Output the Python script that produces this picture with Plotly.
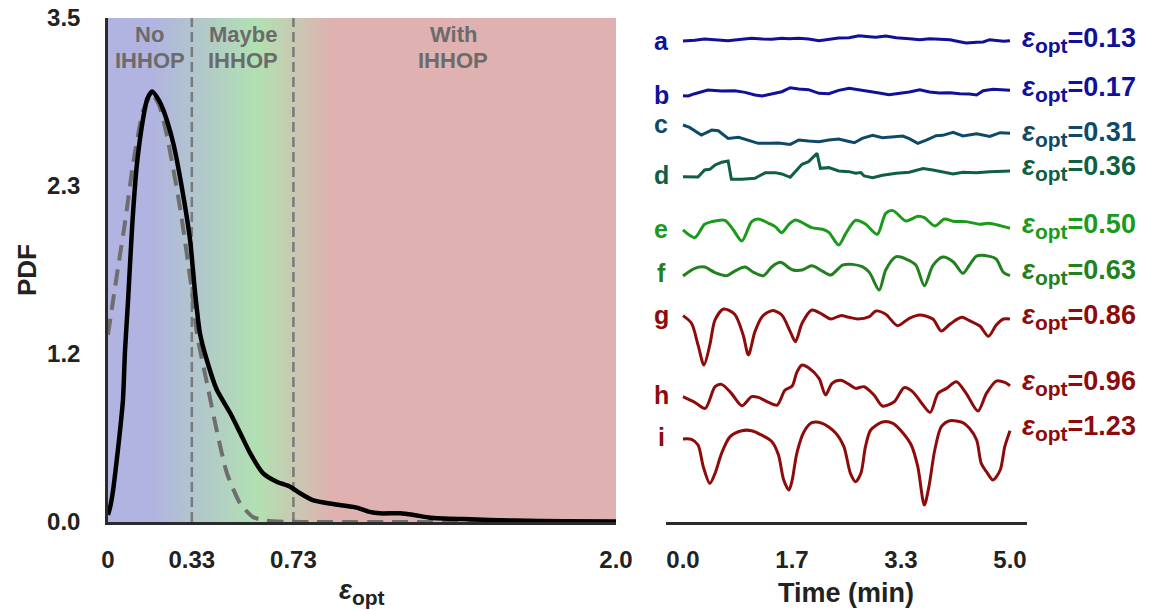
import plotly.graph_objects as go

# ---------------- left panel: distribution of eps_opt ----------------
kde_eps = [0, 0.008, 0.02, 0.039, 0.05, 0.059, 0.067, 0.079, 0.095, 0.113, 0.139, 0.155, 0.174,
           0.2, 0.218, 0.257, 0.29, 0.323, 0.343, 0.362, 0.389, 0.428, 0.48, 0.52, 0.559, 0.61,
           0.664, 0.717, 0.756, 0.809, 0.886, 0.979, 1.03, 1.07, 1.15, 1.2, 1.27, 1.4, 1.6, 1.8, 2.0]
kde_pdf = [0.05, 0.1, 0.22, 0.5, 0.68, 0.85, 1.19, 1.54, 2.05, 2.47, 2.81, 2.94, 2.99,
           2.93, 2.86, 2.63, 2.33, 1.96, 1.59, 1.31, 1.125, 0.92, 0.76, 0.62, 0.48, 0.34,
           0.28, 0.245, 0.2, 0.15, 0.125, 0.10, 0.07, 0.06, 0.06, 0.05, 0.03, 0.02, 0.01, 0.005, 0.003]

fit_eps = [0, 0.021, 0.045, 0.067, 0.1, 0.139, 0.172, 0.2, 0.23, 0.283, 0.33, 0.35, 0.39,
           0.43, 0.468, 0.52, 0.57, 0.62, 0.7, 0.8, 2.0]
fit_pdf = [1.30, 1.55, 1.83, 2.08, 2.5, 2.86, 2.97, 2.90, 2.70, 2.19, 1.61, 1.31, 0.96,
           0.62, 0.34, 0.13, 0.035, 0.01, 0.002, 0, 0]

thresholds = [0.33, 0.73]
region_first_line = ["No", "Maybe", "With"]
region_second_line = ["IHHOP", "IHHOP", "IHHOP"]
region_label_eps = [0.165, 0.53, 1.36]

pdf_tickvals = [0, 3.5 / 3, 7 / 3, 3.5]
pdf_ticktext = ["0.0", "1.2", "2.3", "3.5"]
eps_tickvals = [0, 0.33, 0.73, 2.0]
eps_ticktext = ["0", "0.33", "0.73", "2.0"]

# ---------------- right panel: example recordings (arbitrary units) ----------------
trace_ids = ["a", "b", "c", "d", "e", "f", "g", "h", "i"]
trace_eps = ["0.13", "0.17", "0.31", "0.36", "0.50", "0.63", "0.86", "0.96", "1.23"]

time_a = [0, .18, .33, .54, .69, .79, .90, 1.05, 1.21, 1.36, 1.51, 1.62, 1.77, 1.92, 2.08, 2.23, 2.38, 2.54,
          2.69, 2.85, 2.95, 3.10, 3.26, 3.46, 3.62, 3.77, 3.92, 4.08, 4.23, 4.33, 4.49, 4.59, 4.69, 4.79, 4.90, 5.00]
amp_a = [-3, -1, 3, 1, -2, 0, 2, 5, 3, 2, 5, 4, 5, 3, -2, 3, 6, 7,
         13, 10, 8, 12, 7, 4, 1, 4, 3, 1, -5, -9, -7, -6, 1, -2, -4, -2]

time_b = [0, .08, .18, .38, .59, .79, .95, 1.10, 1.21, 1.36, 1.51, 1.64, 1.77, 1.92, 2.08, 2.23, 2.38, 2.54,
          2.69, 2.85, 3.00, 3.15, 3.31, 3.46, 3.62, 3.77, 3.92, 4.08, 4.23, 4.38, 4.49, 4.59, 4.74, 4.90, 5.00]
amp_b = [-12, -13, -6, 5, 2, 3, -2, -10, -13, -6, 0, 12, 8, 6, -5, -6, 4, 10,
         6, 0, -4, -9, -5, -1, 6, -1, -4, -3, -6, -7, -10, 3, 7, 4, 4]

time_c = [0, .10, .28, .44, .54, .69, .85, 1.00, 1.15, 1.31, 1.46, 1.64, 1.77, 1.92, 2.08, 2.23, 2.38, 2.49,
          2.62, 2.74, 2.90, 3.05, 3.21, 3.36, 3.46, 3.59, 3.72, 3.87, 3.97, 4.13, 4.28, 4.49, 4.69, 4.85, 5.00]
amp_c = [35, 28, 5, 20, 18, -5, -2, -10, -20, -20, -19, -23, -10, -13, -15, -10, -7, -12,
         -18, -5, 4, -3, -1, 2, -6, -20, -10, 3, 4, 13, 2, 9, 1, 12, 10]

time_d = [0, .23, .33, .41, .49, .59, .69, .74, .90, 1.10, 1.26, 1.41, 1.51, 1.64, 1.74, 1.82, 1.92, 2.05, 2.10,
          2.23, 2.38, 2.54, 2.64, 2.72, 2.77, 2.90, 3.05, 3.26, 3.46, 3.67, 3.82, 3.97, 4.13, 4.28, 4.49, 4.69, 5.00]
amp_d = [-10, -11, 10, 12, 25, 33, 37, -18, -18, -15, 2, 2, -2, -12, 10, 27, 35, 60, 15,
         17, 7, 5, 0, 2, -8, -13, -6, 0, 3, 14, 10, 5, -2, 3, 2, 5, 7]

time_e = [0, .18, .33, .44, .64, .77, .90, 1.05, 1.15, 1.31, 1.41, 1.51, 1.62, 1.72, 1.87, 1.97, 2.13, 2.23,
          2.38, 2.49, 2.64, 2.79, 2.97, 3.10, 3.21, 3.41, 3.59, 3.69, 3.85, 4.00, 4.13, 4.33, 4.54, 4.67, 4.85, 5.00]
amp_e = [-5, -28, 12, 20, 24, -5, -38, 20, 28, 15, 5, -13, 12, 25, 12, 2, -3, -12,
         -50, -15, 24, 13, -18, 45, 53, 22, 36, 32, 7, 28, 21, 20, 12, 15, 8, 0]

time_f = [0, .18, .33, .49, .67, .79, .95, 1.08, 1.23, 1.36, 1.49, 1.67, 1.82, 1.97, 2.13, 2.26, 2.44, 2.59,
          2.74, 2.85, 3.00, 3.10, 3.26, 3.41, 3.56, 3.69, 3.82, 3.97, 4.13, 4.28, 4.38, 4.49, 4.69, 4.79, 4.90, 5.00]
amp_f = [-13, 10, 14, -3, -12, 2, 14, -2, -12, 15, 28, 6, 5, 18, 2, -10, 20, 22,
         15, -2, -55, 5, 45, 38, 20, -42, 18, 44, 30, -5, 20, 47, 46, 38, -2, -12]

time_g = [0, .13, .23, .32, .41, .49, .62, .79, .92, 1.00, 1.10, 1.21, 1.36, 1.51, 1.64, 1.72, 1.82, 1.97, 2.13,
          2.26, 2.41, 2.54, 2.67, 2.85, 2.95, 3.10, 3.28, 3.46, 3.62, 3.82, 3.95, 4.08, 4.26, 4.38, 4.54, 4.67,
          4.79, 4.90, 5.00]
amp_g = [8, -15, -80, -140, -80, -5, 28, 12, -50, -110, -40, 5, 23, 10, -40, -70, -15, 25, 12,
         -2, 8, 3, -2, 5, 22, 12, -22, 0, 10, -2, -38, -18, 3, -7, -23, -54,
         -20, -2, -2]

time_h = [0, .18, .34, .49, .59, .74, .90, 1.05, 1.15, 1.31, 1.44, 1.56, 1.67, 1.74, 1.82, 1.92, 2.08, 2.18, 2.28,
          2.41, 2.54, 2.64, 2.77, 2.92, 3.05, 3.23, 3.38, 3.51, 3.67, 3.78, 3.90, 4.03, 4.18, 4.33, 4.51, 4.64,
          4.79, 4.92, 5.00]
amp_h = [-15, -32, -50, 15, 22, -5, -42, -15, -17, -32, -40, 5, 17, 58, 80, 72, 40, -10, 25,
         34, 22, 10, 15, -10, -43, -30, 12, 0, -40, -62, -5, 10, 30, -5, -58, -5,
         32, 28, 18]

time_i = [0, .13, .23, .31, .41, .49, .59, .72, .90, 1.05, 1.18, 1.36, 1.46, 1.54, 1.62, 1.67, 1.74, 1.85,
          1.97, 2.13, 2.33, 2.46, 2.56, 2.64, 2.72, 2.79, 2.87, 3.05, 3.21, 3.36, 3.49, 3.59, 3.69, 3.76,
          3.85, 3.95, 4.08, 4.28, 4.38, 4.49, 4.56, 4.64, 4.74, 4.85, 4.92, 5.00]
amp_i = [-27, -28, -45, -110, -160, -130, -70, -20, -2, -2, -13, -35, -75, -150, -180, -150, -70, -5,
         22, 20, -8, -50, -130, -155, -130, -50, 0, 24, 20, -8, -45, -110, -225, -170,
         -60, 10, 28, 22, 5, -30, -100, -125, -150, -120, -50, -2]

time_ticks = [0, 5 / 3, 10 / 3, 5]
time_ticktext = ["0.0", "1.7", "3.3", "5.0"]

# ---------------- styling / layout constants ----------------
W, H = 1160, 610
TOP, BOTTOM = 18, 522
FONT = "Liberation Sans, Arial, sans-serif"
AXIS_COLOR = "#2b2b2b"
TEXT_COLOR = "#222222"
REGION_TEXT = "#6b6b6b"
BLUE_BG, GREEN_BG, PINK_BG = "#b1b3e1", "#b1e1b1", "#dfb1b1"

trace_times = [time_a, time_b, time_c, time_d, time_e, time_f, time_g, time_h, time_i]
trace_amps = [amp_a, amp_b, amp_c, amp_d, amp_e, amp_f, amp_g, amp_h, amp_i]
trace_colors = ["#10109a", "#10109a", "#0e4a68", "#0f5f42", "#1b9a1b", "#22801e",
                "#8e0b0b", "#8e0b0b", "#8e0b0b"]
trace_base_px = [40, 91.7, 136.7, 173.3, 228.3, 271.7, 318.3, 391.7, 430]
letter_y_px = [41, 95, 124, 175, 229, 273, 315, 395, 437]
label_y_px = [40, 89, 134, 168, 226, 272, 317, 383, 428]
amp_scale = 1 / 3
smooth_traces = {"e", "f", "g", "h", "i"}


def fx(px):
    return px / W


def fy(py):
    return 1 - py / H


def eps_text(suffix="", sub_px=20):
    return "<i>ε</i><sub><span style='font-size:%dpx'>opt</span></sub>%s" % (sub_px, suffix)


fig = go.Figure()

# gradient background marking the three regimes
fig.add_trace(go.Scatter(
    x=[0, 2, 2, 0, 0], y=[0, 0, 3.5, 3.5, 0], mode="lines", fill="toself",
    line=dict(width=0), hoverinfo="skip", showlegend=False,
    fillgradient=dict(type="horizontal",
                      colorscale=[[0, BLUE_BG], [0.085, BLUE_BG], [0.295, GREEN_BG],
                                  [0.44, PINK_BG], [1, PINK_BG]]),
    xaxis="x", yaxis="y"))

# regime boundaries
vx, vy = [], []
for t in thresholds:
    vx += [t, t, None]
    vy += [0, 3.5, None]
fig.add_trace(go.Scatter(x=vx, y=vy, mode="lines", showlegend=False, hoverinfo="skip",
                         line=dict(color="#7a7a7a", width=2.5, dash="10px,5px"),
                         xaxis="x", yaxis="y"))

# fitted distribution (dashed) and estimated density (solid)
fig.add_trace(go.Scatter(x=fit_eps, y=fit_pdf, mode="lines", showlegend=False,
                         line=dict(color="#6e6e6e", width=4, dash="16px,9px", shape="spline",
                                   smoothing=0.6),
                         xaxis="x", yaxis="y"))
fig.add_trace(go.Scatter(x=kde_eps, y=kde_pdf, mode="lines", showlegend=False,
                         line=dict(color="black", width=4.5, shape="spline", smoothing=0.6),
                         xaxis="x", yaxis="y"))

# example recordings, stacked
for tid, tt, aa, col, base in zip(trace_ids, trace_times, trace_amps, trace_colors, trace_base_px):
    yy = [-base + a * amp_scale for a in aa]
    shape = "spline" if tid in smooth_traces else "linear"
    fig.add_trace(go.Scatter(x=tt, y=yy, mode="lines", showlegend=False,
                             line=dict(color=col, width=3, shape=shape, smoothing=0.8),
                             xaxis="x2", yaxis="y2"))

annotations = []
region_font = dict(family=FONT, size=22, color=REGION_TEXT, weight="bold")
for l1, l2, ex in zip(region_first_line, region_second_line, region_label_eps):
    annotations.append(dict(x=ex, y=fy(35), xref="x", yref="paper", text=l1, showarrow=False,
                            xanchor="center", yanchor="middle", font=region_font))
    annotations.append(dict(x=ex, y=fy(60), xref="x", yref="paper", text=l2, showarrow=False,
                            xanchor="center", yanchor="middle", font=region_font))

for tid, col, ly, ey, ev in zip(trace_ids, trace_colors, letter_y_px, label_y_px, trace_eps):
    annotations.append(dict(x=fx(661), y=fy(ly), xref="paper", yref="paper", text=tid,
                            showarrow=False, xanchor="center", yanchor="middle",
                            font=dict(family=FONT, size=25, color=col, weight="bold")))
    annotations.append(dict(x=fx(1020), y=fy(ey), xref="paper", yref="paper",
                            text=eps_text("=" + ev, 21),
                            showarrow=False, xanchor="left", yanchor="middle",
                            font=dict(family=FONT, size=27, color=col, weight="bold")))

# axis titles
annotations.append(dict(x=fx(27), y=fy(270), xref="paper", yref="paper", text="PDF", textangle=-90,
                        showarrow=False, xanchor="center", yanchor="middle",
                        font=dict(family=FONT, size=26, color=TEXT_COLOR, weight="bold")))
annotations.append(dict(x=fx(362), y=fy(592), xref="paper", yref="paper", text=eps_text("", 21),
                        showarrow=False, xanchor="center", yanchor="middle",
                        font=dict(family=FONT, size=27, color=TEXT_COLOR, weight="bold")))
annotations.append(dict(x=fx(846), y=fy(593), xref="paper", yref="paper", text="Time (min)",
                        showarrow=False, xanchor="center", yanchor="middle",
                        font=dict(family=FONT, size=27, color=TEXT_COLOR, weight="bold")))

tick_font = dict(family=FONT, size=24, color=TEXT_COLOR, weight="bold")

fig.update_layout(
    width=W, height=H, margin=dict(l=0, r=0, t=0, b=0, autoexpand=False),
    paper_bgcolor="white", plot_bgcolor="rgba(0,0,0,0)",
    showlegend=False,
    annotations=annotations,
    xaxis=dict(domain=[fx(108), fx(616)], range=[0, 2], showgrid=False, zeroline=False,
               showline=True, linecolor=AXIS_COLOR, linewidth=2.5, ticks="", automargin=False,
               tickvals=eps_tickvals, ticktext=eps_ticktext, tickfont=tick_font,
               ticklabelstandoff=14, fixedrange=True),
    yaxis=dict(domain=[fy(BOTTOM), fy(TOP)], range=[0, 3.5], showgrid=False, zeroline=False,
               showline=True, linecolor=AXIS_COLOR, linewidth=2.5, ticks="", automargin=False,
               tickvals=pdf_tickvals, ticktext=pdf_ticktext, tickfont=tick_font,
               ticklabelstandoff=20, fixedrange=True),
    xaxis2=dict(domain=[fx(666), fx(1027)], range=[-0.26, 5.26], anchor="y2", showgrid=False,
                zeroline=False, showline=True, linecolor=AXIS_COLOR, linewidth=2.5, ticks="",
                automargin=False, tickvals=time_ticks, ticktext=time_ticktext, tickfont=tick_font,
                ticklabelstandoff=14, fixedrange=True),
    yaxis2=dict(domain=[fy(BOTTOM), fy(TOP)], range=[-BOTTOM, -TOP], anchor="x2", visible=False,
                automargin=False, fixedrange=True),
)

fig.write_html("out.html")
